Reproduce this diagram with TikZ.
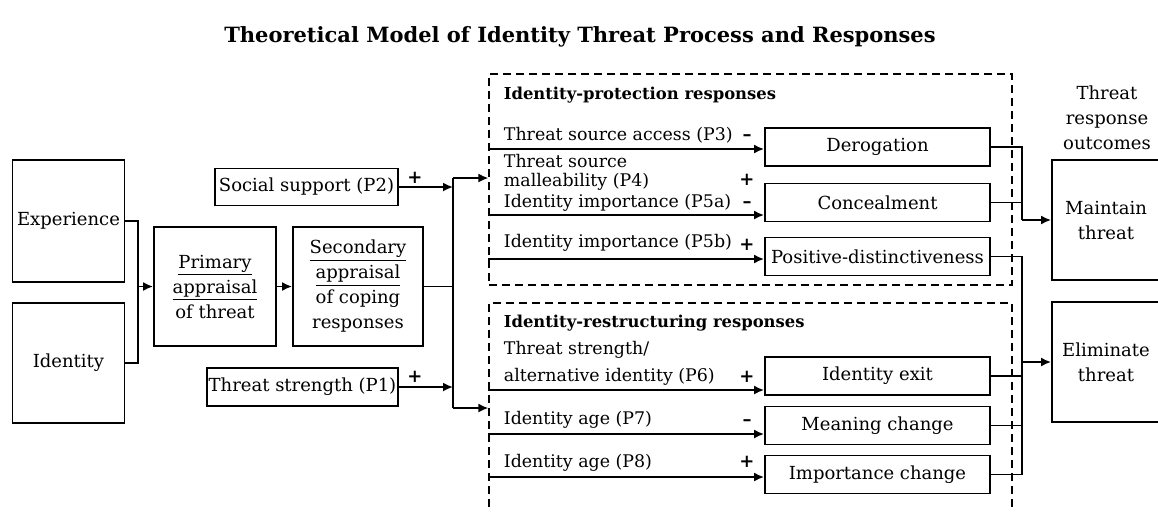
\documentclass[tikz,border=0pt]{standalone}
\usepackage{fontspec}
\setmainfont{DejaVu Serif}
\usetikzlibrary{arrows.meta}

\tikzset{
    box/.style={draw, line width=.9pt, align=center, inner sep=1pt},
    grp/.style={draw, dash pattern=on 4pt off 2.5pt, line width=.6pt},
    arr/.style={-{Latex[length=5pt,width=4.5pt]}, line width=.9pt},
    lbl/.style={anchor=west, inner sep=0pt, align=left, font=\fontsize{8.7}{12.5}\selectfont},
    grptitle/.style={anchor=west, inner sep=0pt, font=\fontsize{8.2}{10}\selectfont\bfseries},
    sgn/.style={inner sep=0pt, font=\fontsize{9}{10}\selectfont\bfseries}
}

\begin{document}
\begin{tikzpicture}[x=0.5pt, y=-0.5pt, font=\fontsize{9}{12.5}\selectfont, line width=.9pt]
    \useasboundingbox (0,0) rectangle (1158,511);
    % Title
    \node[font=\fontsize{10.5}{12}\selectfont\bfseries] (title) at (580,37) {Theoretical Model of Identity Threat Process and Responses};
    % Antecedents
    \node[box, minimum width=56pt, minimum height=61pt] (exp) at (68.5,221) {Experience};
    \node[box, minimum width=56pt, minimum height=60pt] (iden) at (68.5,363) {Identity};
    % Appraisal
    \node[box, minimum width=61pt, minimum height=59.5pt] (prim) at (215,286.5) {\underline{Primary}\\\underline{appraisal}\\of threat};
    \node[box, minimum width=65pt, minimum height=59.5pt] (sec) at (358,286.5) {\underline{Secondary}\\\underline{appraisal}\\of coping\\responses};
    \node[box, minimum width=91.5pt, minimum height=18.5pt] (soc) at (306.5,187) {Social support (P2)};
    \node[box, minimum width=94.5pt, minimum height=19pt] (str) at (302.5,387) {Threat strength (P1)};
    % Response groups
    \node[grp, minimum width=261.5pt, minimum height=105.5pt] (prot) at (750.5,179.5) {};
    \node[grp, minimum width=261.5pt, minimum height=120pt] (rest) at (750.5,423) {};
    \node[grptitle] (prot-title) at (503,95) {Identity-protection responses};
    \node[grptitle] (rest-title) at (503,323) {Identity-restructuring responses};
    \foreach \y/\txt [count=\i] in {135/Threat source access (P3), 172.5/{Threat source\\[-3pt]malleability (P4)}, 203/Identity importance (P5a), 243/Identity importance (P5b), 363.5/{Threat strength/\\[1pt]alternative identity (P6)}, 420/Identity age (P7), 463/Identity age (P8)} {
        \node[lbl] (cond-\i) at (503,\y) {\txt};
    }
    \foreach \x/\y/\s [count=\i] in {415/178/+, 415/377/+, 747/138/--, 747/180/+, 747/205/--, 747/245/+, 747/377/+, 747/423/--, 747/462/+} {
        \node[sgn] (sign-\i) at (\x,\y) {\s};
    }
    % Responses
    \foreach \name/\y/\txt in {derog/147/Derogation, conc/202.5/Concealment, posd/256.5/Positive-distinctiveness, idexit/376/Identity exit, meaning/425.5/Meaning change, impch/474.5/Importance change} {
        \node[box, minimum width=112.5pt, minimum height=19pt] (\name) at (877.5,\y) {\txt};
    }
    % Outcomes
    \node[align=center] (outc) at (1107,118) {Threat\\response\\outcomes};
    \node[box, minimum width=54pt, minimum height=60pt] (maint) at (1106,220) {Maintain\\threat};
    \node[box, minimum width=54pt, minimum height=60pt] (elim) at (1106,362) {Eliminate\\threat};
    % Arrows
    \coordinate (ant) at (138,286.5);
    \draw (exp.east) -| (ant) |- (iden.east);
    \draw[arr] (ant) -- (prim);
    \draw[arr] (prim) -- (sec);
    \coordinate (spine) at (453,286.5);
    \coordinate (spinetop) at (453,178);
    \coordinate (spinebot) at (453,408);
    \draw (sec) -- (spine);
    \draw (spinetop) -- (spinebot);
    \draw[arr] (spinetop) -- (prot.west |- spinetop);
    \draw[arr] (spinebot) -- (rest.west |- spinebot);
    \draw[arr] (soc.east) -- (spine |- soc.east);
    \draw[arr] (str.east) -- (spine |- str.east);
    \foreach \name/\y in {derog/149, conc/215, posd/259} {
        \draw[arr] (prot.west |- 0,\y) -- (\name.west |- 0,\y);
    }
    \foreach \name/\y in {idexit/390, meaning/434, impch/477} {
        \draw[arr] (rest.west |- 0,\y) -- (\name.west |- 0,\y);
    }
    \coordinate (mjoin) at (1022,220);
    \foreach \name in {derog,conc} {
        \draw (\name.east) -| (mjoin);
    }
    \draw[arr] (mjoin) -- (maint.west);
    \coordinate (ejoin) at (1022,362);
    \foreach \name in {posd,idexit,meaning,impch} {
        \draw (\name.east) -| (ejoin);
    }
    \draw[arr] (ejoin) -- (elim.west);
\end{tikzpicture}
\end{document}
